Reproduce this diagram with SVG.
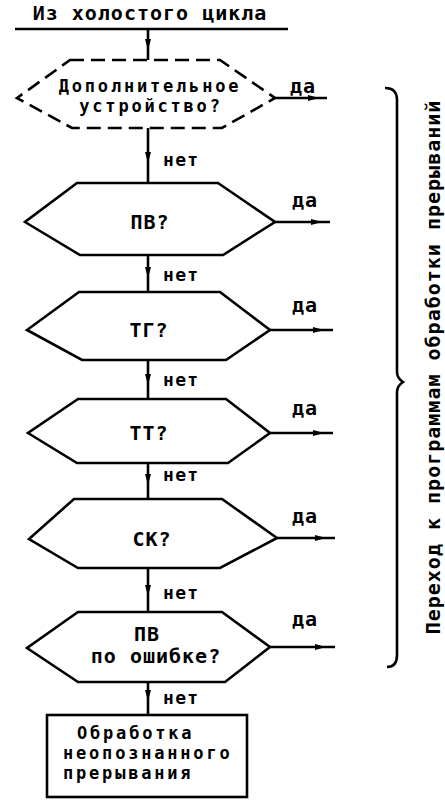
<svg xmlns="http://www.w3.org/2000/svg" width="445" height="806" viewBox="0 0 445 806">
<style>
.s{fill:none;stroke:#000;stroke-width:2.6;stroke-linejoin:miter}
.d{stroke-dasharray:14 7}
.c{fill:none;stroke:#000;stroke-width:2.6}
.t{font-family:"DejaVu Sans Mono","Liberation Mono",monospace;font-weight:bold;font-size:20px;letter-spacing:1px;fill:#000}
.m{text-anchor:middle}
.n{font-size:18px;letter-spacing:1.3px}
.k{font-size:17px;letter-spacing:2.8px}
</style>
<defs>
<marker id="ah" markerUnits="userSpaceOnUse" markerWidth="12" markerHeight="7" refX="11" refY="3.5" orient="auto">
<path d="M0,0.5 L11,3.5 L0,6.5 z" fill="#000"/>
</marker>
</defs>
<rect width="445" height="806" fill="#fff"/>
<g id="start">
<text class="t m" x="150" y="20">Из холостого цикла</text>
<line class="c" x1="15" y1="29" x2="288" y2="29"/>
</g>
<g id="extra">
<polygon class="s d" points="70,60 220,60 275,98 222,128 72,128 17,98"/>
<text class="t m k" x="150" y="92">Дополнительное</text>
<text class="t m k" x="151" y="112">устройство?</text>
</g>
<g id="pv">
<polygon class="s" points="77,183 218,183 275,222 223,255 80,255 25,222"/>
<text class="t m" x="150" y="229">ПВ?</text>
</g>
<g id="tg">
<polygon class="s" points="79,292 220,292 270,330 226,360 82,360 27,330"/>
<text class="t m" x="149" y="337">ТГ?</text>
</g>
<g id="tt">
<polygon class="s" points="78,399 226,399 270,433 228,463 77,463 28,433"/>
<text class="t m" x="149" y="440">ТТ?</text>
</g>
<g id="sk">
<polygon class="s" points="74,499 222,499 277,538 220,568 78,568 29,539"/>
<text class="t m" x="152" y="546">СК?</text>
</g>
<g id="pverr">
<polygon class="s" points="78,612 222,612 270,647 225,682 78,682 27,648"/>
<text class="t m" x="147" y="641">ПВ</text>
<text class="t m" x="156" y="663">по ошибке?</text>
</g>
<g id="unknown">
<rect class="s" x="47" y="715" width="200" height="82"/>
<text class="t k" x="77" y="739">Обработка</text>
<text class="t k" x="63" y="759">неопознанного</text>
<text class="t k" x="63" y="779">прерывания</text>
</g>
<g id="connectors">
<path class="c" marker-mid="url(#ah)" d="M148,29 L148,50 L148,60"/>
<path class="c" marker-mid="url(#ah)" d="M148,128 L148,163 L148,183"/>
<path class="c" marker-mid="url(#ah)" d="M148,255 L148,278 L148,292"/>
<path class="c" marker-mid="url(#ah)" d="M148,360 L148,385 L148,399"/>
<path class="c" marker-mid="url(#ah)" d="M148,463 L148,485 L148,499"/>
<path class="c" marker-mid="url(#ah)" d="M148,568 L148,596 L148,612"/>
<path class="c" marker-mid="url(#ah)" d="M148,682 L148,701 L148,715"/>
<path class="c" marker-mid="url(#ah)" d="M275,98 L319,98 L327,98"/>
<path class="c" marker-mid="url(#ah)" d="M275,222 L322,222 L330,222"/>
<path class="c" marker-mid="url(#ah)" d="M270,330 L324,330 L333,330"/>
<path class="c" marker-mid="url(#ah)" d="M270,433 L324,433 L333,433"/>
<path class="c" marker-mid="url(#ah)" d="M277,538 L326,538 L335,538"/>
<path class="c" marker-mid="url(#ah)" d="M270,647 L326,647 L335,647"/>
</g>
<g id="labels">
<text class="t n" x="163" y="166">нет</text>
<text class="t n" x="163" y="281">нет</text>
<text class="t n" x="163" y="386">нет</text>
<text class="t n" x="163" y="481">нет</text>
<text class="t n" x="163" y="599">нет</text>
<text class="t n" x="163" y="704">нет</text>
<text class="t" x="290" y="93">да</text>
<text class="t" x="292" y="207">да</text>
<text class="t" x="292" y="312">да</text>
<text class="t" x="292" y="415">да</text>
<text class="t" x="292" y="523">да</text>
<text class="t" x="292" y="626">да</text>
</g>
<g id="brace">
<path class="c" stroke-width="2.2" d="M385,88 Q397,88 397,100 L397,372 Q397,378 403,382 Q397,386 397,392 L397,655 Q397,667 387,667"/>
<text class="t m" transform="translate(440,367) rotate(-90)">Переход к программам обработки прерываний</text>
</g>
</svg>
